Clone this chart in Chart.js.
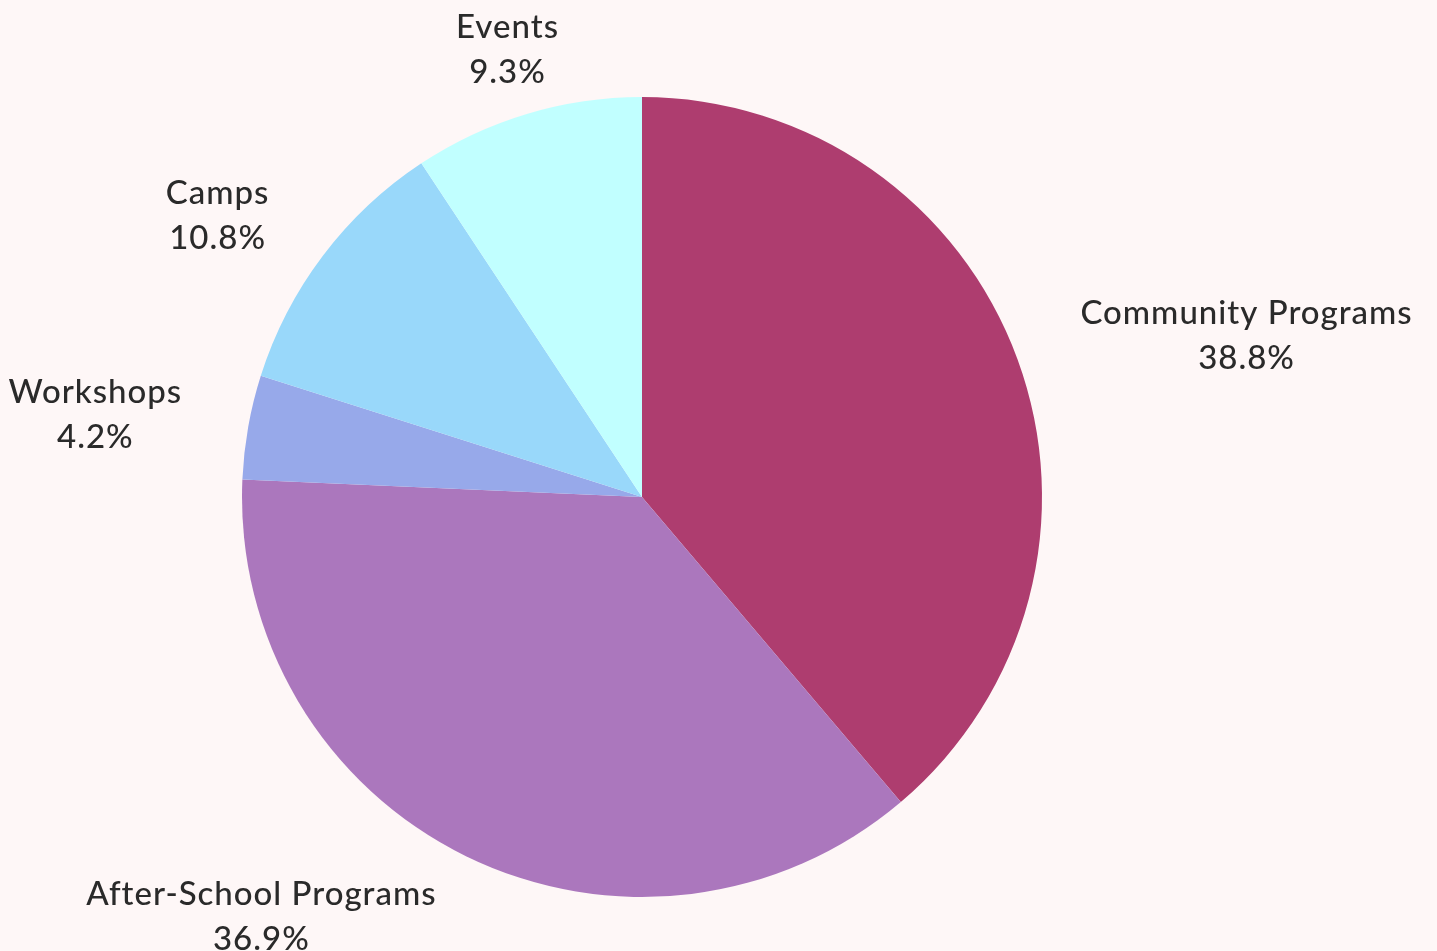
<!DOCTYPE html>
<html>
<head>
<meta charset="utf-8">
<script src="https://cdn.jsdelivr.net/npm/chart.js@4/dist/chart.umd.min.js"></script>
<style>
  html, body { margin: 0; padding: 0; background: #FEF7F7; }
  #wrap { width: 1437px; height: 951px; position: relative; }
</style>
</head>
<body>
<div id="wrap"><canvas id="c" width="1437" height="951"></canvas></div>
<script>
const categories = ["Community Programs", "After-School Programs", "Workshops", "Camps", "Events"];
const values = [38.8, 36.9, 4.2, 10.8, 9.3];
const colors = ["#AE3D6F", "#AB77BD", "#97A9EA", "#99D8FA", "#C1FFFF"];

const outsideLabels = {
  id: 'outsideLabels',
  afterDatasetsDraw(chart) {
    const ctx = chart.ctx;
    const meta = chart.getDatasetMeta(0);
    const data = chart.data.datasets[0].data;
    const total = data.reduce((a, b) => a + b, 0);
    ctx.save();
    ctx.font = '500 33px Lato, "Open Sans", sans-serif';
    try { ctx.letterSpacing = '1px'; } catch (e) {}
    ctx.fillStyle = '#2A2A2A';
    ctx.textBaseline = 'middle';
    ctx.textAlign = 'center';
    meta.data.forEach((arc, i) => {
      const p = arc.getProps(['x', 'y', 'startAngle', 'endAngle', 'outerRadius'], true);
      const mid = (p.startAngle + p.endAngle) / 2;
      const dx = Math.cos(mid), dy = Math.sin(mid);
      const R = p.outerRadius + 67;
      const ax = p.x + R * dx, ay = p.y + R * dy;
      const lines = [chart.data.labels[i], (data[i] / total * 100).toFixed(1) + '%'];
      const w = Math.max(...lines.map(l => ctx.measureText(l).width));
      let cx;
      if (Math.abs(dx) < 0.35) cx = ax;
      else if (dx > 0) cx = ax + w / 2;
      else cx = ax - w / 2;
      const lh = 45;
      lines.forEach((l, k) => {
        ctx.fillText(l, cx, ay + (k - (lines.length - 1) / 2) * lh);
      });
    });
    ctx.restore();
  }
};

new Chart(document.getElementById('c'), {
  type: 'pie',
  data: {
    labels: categories,
    datasets: [{
      data: values,
      backgroundColor: colors,
      borderWidth: 0
    }]
  },
  options: {
    responsive: false,
    animation: false,
    layout: { padding: { top: 97, bottom: 54, left: 0, right: 153 } },
    plugins: {
      legend: { display: false },
      tooltip: { enabled: false }
    }
  },
  plugins: [outsideLabels]
});
</script>
</body>
</html>
